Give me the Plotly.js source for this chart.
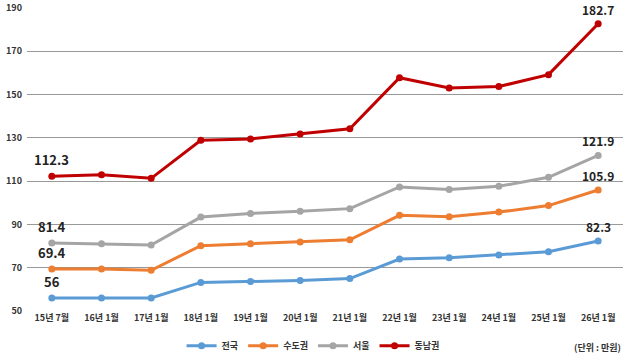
<!DOCTYPE html>
<html>
<head>
<meta charset="utf-8">
<script src="https://cdn.plot.ly/plotly-3.0.1.min.js"></script>
<style>html,body{margin:0;padding:0;background:#fff;}#chart{width:630px;height:354px;}</style>
</head>
<body>
<div id="chart"></div>
<script>
const categories = ['15년 7월','16년 1월','17년 1월','18년 1월','19년 1월','20년 1월','21년 1월','22년 1월','23년 1월','24년 1월','25년 1월','26년 1월'];
const national = [56, 56, 56, 63.2, 63.6, 64.1, 65.0, 74.0, 74.6, 75.9, 77.4, 82.3];
const capital = [69.4, 69.4, 68.8, 80.2, 81.1, 81.9, 82.9, 94.2, 93.6, 95.7, 98.7, 105.9];
const seoul = [81.4, 81.1, 80.5, 93.4, 95.1, 96.1, 97.3, 107.3, 106.1, 107.6, 111.8, 121.9];
const southeast = [112.3, 113.0, 111.3, 128.9, 129.5, 131.8, 134.2, 157.8, 153.0, 153.7, 159.2, 182.7];
const seriesNames = ['전국','수도권','서울','동남권'];
const colors = ['#5B9BD5','#ED7D31','#A5A5A5','#C00000'];
const yTicks = [50, 70, 90, 110, 130, 150, 170, 190];
const unitText = '(단위 : 만원)';

const allSeries = [national, capital, seoul, southeast];
const font = '"Noto Sans CJK KR", "Noto Sans", sans-serif';

const traces = allSeries.map((vals, i) => ({
  type: 'scatter', mode: 'lines+markers',
  x: categories, y: vals, name: seriesNames[i],
  line: {color: colors[i], width: 3},
  marker: {color: colors[i], size: 7},
  cliponaxis: false
}));

const annotations = [];
allSeries.forEach((vals) => {
  annotations.push({x: categories[0], y: vals[0], text: '<b>' + vals[0] + '</b>', showarrow: false,
    yanchor: 'bottom', yshift: 5, font: {family: font, size: 13, color: '#222'}});
  const n = vals.length - 1;
  annotations.push({x: categories[n], y: vals[n], text: '<b>' + vals[n] + '</b>', showarrow: false,
    yanchor: 'bottom', yshift: 4, font: {family: font, size: 12, color: '#222'}});
});
annotations.push({xref: 'paper', yref: 'paper', x: 1.0, y: -0.12, xanchor: 'right', yanchor: 'middle',
  text: '<b>' + unitText + '</b>', showarrow: false, font: {family: font, size: 9, color: '#333'}});

const layout = {
  width: 630, height: 354,
  margin: {l: 27, r: 7, t: 8, b: 43, autoexpand: false},
  paper_bgcolor: '#fff', plot_bgcolor: '#fff',
  showlegend: true,
  legend: {orientation: 'h', x: 0.48, xanchor: 'center', y: -0.115, yanchor: 'middle',
    font: {family: font, size: 9, color: '#333', weight: 'bold'}, itemwidth: 30, tracegroupgap: 0},
  xaxis: {type: 'category', range: [-0.5, 11.5], showgrid: false, showline: false, zeroline: false,
    ticks: '', tickfont: {family: font, size: 9, color: '#333', weight: 'bold'}},
  yaxis: {range: [50, 190], tickvals: yTicks, showgrid: true, gridcolor: '#999', gridwidth: 1,
    zeroline: false, showline: false, ticks: '', ticklabelstandoff: 4,
    tickfont: {family: font, size: 9, color: '#333', weight: 'bold'}},
  annotations: annotations
};
Plotly.newPlot('chart', traces, layout, {displayModeBar: false, staticPlot: true});
</script>
</body>
</html>
